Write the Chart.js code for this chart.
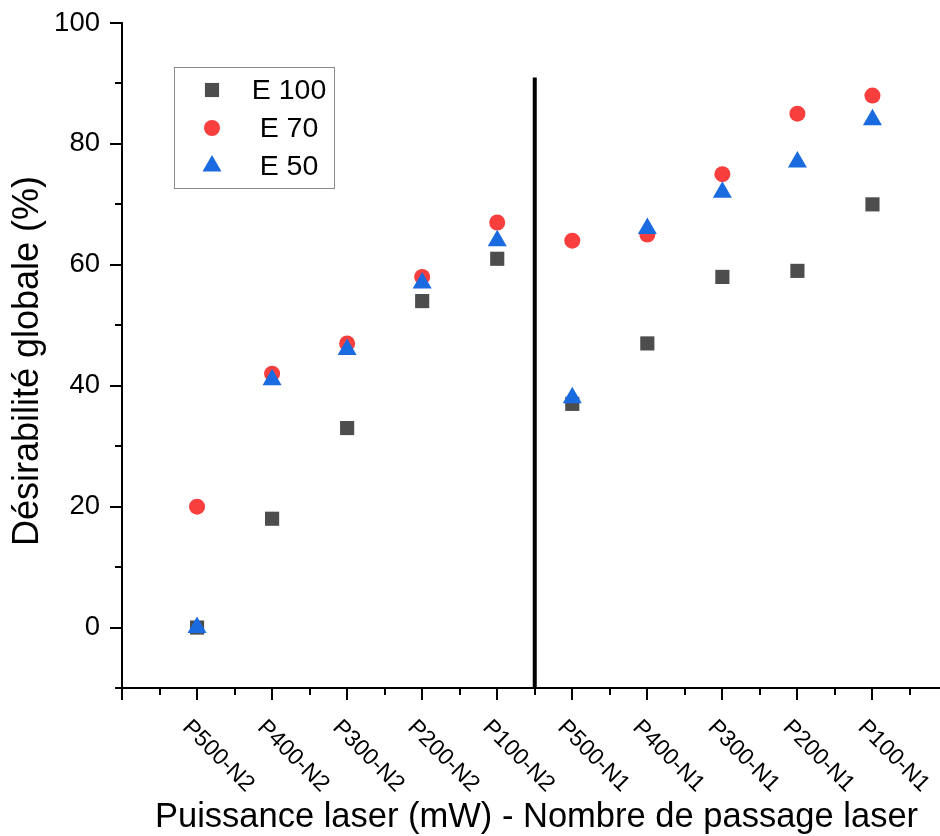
<!DOCTYPE html>
<html><head><meta charset="utf-8">
<script src="https://cdn.jsdelivr.net/npm/chart.js@4/dist/chart.umd.min.js"></script>
<style>html,body{margin:0;padding:0;background:#fff;} canvas{display:block;}</style>
</head><body>
<canvas id="c" width="940" height="836"></canvas>
<script>
const categories = ['P500-N2','P400-N2','P300-N2','P200-N2','P100-N2','P500-N1','P400-N1','P300-N1','P200-N1','P100-N1'];
const e100 = [0, 18, 33, 54, 61, 37, 47, 58, 59, 70];
const e70  = [20, 42, 47, 58, 67, 64, 65, 75, 85, 88];
const e50  = [0, 41, 46, 57, 64, 38, 66, 72, 77, 84];
const seriesNames = ['E 100', 'E 70', 'E 50'];
const yMajorTicks = [0, 20, 40, 60, 80, 100];
const yMinorTicks = [-10, 10, 30, 50, 70, 90];
const separatorX = 5.5;
const separatorRange = [-10, 91];
const yTitle = 'Désirabilité globale (%)';
const xTitle = 'Puissance laser (mW) - Nombre de passage laser';

const FONT = '"Liberation Sans", Arial, sans-serif';
const colors = ['#4d4d4d', '#f93e3e', '#1a6be0'];
const styles = ['rect', 'circle', 'triangle'];
const radii = [10, 8, 11];

function pts(arr){ return arr.map((v,i)=>({x:i+1, y:v})); }

function drawMarker(ctx, style, r, x, y, color){
  ctx.save();
  ctx.fillStyle = color;
  ctx.beginPath();
  if (style === 'rect') { const s = r*Math.SQRT1_2; ctx.rect(x-s, y-s, 2*s, 2*s); }
  else if (style === 'circle') { ctx.arc(x, y, r, 0, Math.PI*2); }
  else {
    for (let k=0;k<3;k++){ const a = k*2*Math.PI/3; const px = x + Math.sin(a)*r, py = y - Math.cos(a)*r; if(k===0) ctx.moveTo(px,py); else ctx.lineTo(px,py);} ctx.closePath();
  }
  ctx.fill();
  ctx.restore();
}

const decor = {
  id: 'decor',
  afterDraw(chart){
    const ctx = chart.ctx, xs = chart.scales.x, ys = chart.scales.y;
    const ax = xs.getPixelForValue(0), ay = ys.getPixelForValue(-10);
    ctx.save();
    ctx.strokeStyle = '#000'; ctx.lineWidth = 2;
    for (let i=0;i<=10;i++){
      const p = Math.round(xs.getPixelForValue(i));
      ctx.beginPath(); ctx.moveTo(p, ay); ctx.lineTo(p, ay+12); ctx.stroke();
      const q = Math.round(xs.getPixelForValue(i+0.5));
      if (q <= chart.width) { ctx.beginPath(); ctx.moveTo(q, ay); ctx.lineTo(q, ay+7); ctx.stroke(); }
    }
    yMajorTicks.forEach(v=>{ const p = Math.round(ys.getPixelForValue(v)); ctx.beginPath(); ctx.moveTo(ax, p); ctx.lineTo(ax-12, p); ctx.stroke(); });
    yMinorTicks.forEach(v=>{ const p = Math.round(ys.getPixelForValue(v)); ctx.beginPath(); ctx.moveTo(ax, p); ctx.lineTo(ax-7, p); ctx.stroke(); });
    ctx.fillStyle = '#000';
    ctx.font = '23px ' + FONT;
    ctx.textAlign = 'left'; ctx.textBaseline = 'middle';
    categories.forEach((c,i)=>{
      const p = xs.getPixelForValue(i+1);
      ctx.save(); ctx.translate(p-11, ay+36); ctx.rotate(Math.PI/4); ctx.fillText(c, 0, 0); ctx.restore();
    });
    ctx.font = '34.5px ' + FONT;
    ctx.textAlign = 'center'; ctx.textBaseline = 'middle';
    ctx.fillText(xTitle, 536.5, 817);
    ctx.font = '36px ' + FONT;
    ctx.save(); ctx.translate(28, 361); ctx.rotate(-Math.PI/2); ctx.fillText(yTitle, 0, 0); ctx.restore();
    ctx.lineWidth = 1; ctx.strokeStyle = '#8a8a8a';
    ctx.strokeRect(174.5, 67.5, 160, 121);
    ctx.font = '28.5px ' + FONT; ctx.textAlign = 'center'; ctx.textBaseline = 'middle';
    const ly = [90, 128, 166];
    seriesNames.forEach((n,k)=>{
      drawMarker(ctx, styles[k], radii[k], 212, ly[k], colors[k]);
      ctx.fillStyle = '#000';
      ctx.fillText(n, 289, ly[k]+1);
    });
    ctx.restore();
  }
};

new Chart(document.getElementById('c'), {
  type: 'scatter',
  data: {
    datasets: [
      { label: seriesNames[0], data: pts(e100), pointStyle: styles[0], pointRadius: radii[0], backgroundColor: colors[0], borderWidth: 0, order: 3 },
      { label: seriesNames[1], data: pts(e70), pointStyle: styles[1], pointRadius: radii[1], backgroundColor: colors[1], borderWidth: 0, order: 2 },
      { label: seriesNames[2], data: pts(e50), pointStyle: styles[2], pointRadius: radii[2], backgroundColor: colors[2], borderWidth: 0, order: 1 },
      { type: 'line', label: 'sep', data: [{x: separatorX, y: separatorRange[0]}, {x: separatorX, y: separatorRange[1]}], borderColor: '#000', borderWidth: 4, pointRadius: 0, order: 4 }
    ]
  },
  options: {
    responsive: false, animation: false, devicePixelRatio: 1,
    layout: { autoPadding: false, padding: { top: 23, right: 0, left: 0, bottom: 0 } },
    plugins: { legend: { display: false }, tooltip: { enabled: false } },
    scales: {
      x: { type: 'linear', min: 0, max: 10.9, grid: { display: false, drawTicks: false },
           border: { display: true, color: '#000', width: 2 }, ticks: { display: false },
           afterFit(s){ s.height = 148; s.paddingLeft = 0; s.paddingRight = 0; } },
      y: { type: 'linear', min: -10, max: 100,
           afterBuildTicks(s){ s.ticks = yMinorTicks.concat(yMajorTicks).sort((a,b)=>a-b).map(v=>({value:v})); },
           grid: { display: false, drawTicks: false },
           border: { display: true, color: '#000', width: 2 },
           ticks: { color: '#000', padding: 22, font: { family: FONT, size: 27.5 }, autoSkip: false,
                    callback: (v)=> yMajorTicks.includes(v) ? String(v) : '' },
           afterFit(s){ s.width = 122; s.paddingTop = 0; s.paddingBottom = 0; } }
    }
  },
  plugins: [decor]
});
</script>
</body></html>
